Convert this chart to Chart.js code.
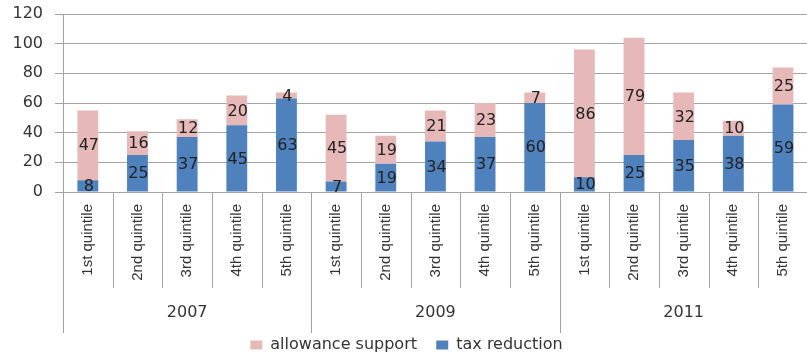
<!DOCTYPE html>
<html>
<head>
<meta charset="utf-8">
<script src="https://cdn.jsdelivr.net/npm/chart.js@4/dist/chart.umd.min.js"></script>
<style>
    html, body { margin: 0; padding: 0; background: #fff; overflow: hidden; }
    #wrap { width: 813px; height: 354px; }
</style>
</head>
<body>
<div id="wrap"><canvas id="chart"></canvas></div>
<script>
const years = ["2007", "2009", "2011"];
const quintiles = ["1st quintile", "2nd quintile", "3rd quintile", "4th quintile", "5th quintile"];
const taxReduction = [8, 25, 37, 45, 63, 7, 19, 34, 37, 60, 10, 25, 35, 38, 59];
const allowanceSupport = [47, 16, 12, 20, 4, 45, 19, 21, 23, 7, 86, 79, 32, 10, 25];
const yTicks = [0, 20, 40, 60, 80, 100, 120];

const labels = [];
years.forEach(function () {
    quintiles.forEach(function (q) { labels.push(q); });
});

const gridGray = "#a3a3a3";
const textColor = "#333333";
const wideFont = "'DejaVu Sans', Verdana, sans-serif";

// value printed in the middle of every stacked segment
const segmentLabels = {
    id: "segmentLabels",
    afterDatasetsDraw: function (chart) {
        const ctx = chart.ctx;
        ctx.save();
        ctx.font = "16px " + wideFont;
        ctx.fillStyle = "#222";
        ctx.textAlign = "center";
        ctx.textBaseline = "middle";
        chart.data.datasets.forEach(function (ds, di) {
            chart.getDatasetMeta(di).data.forEach(function (bar, i) {
                const cy = (bar.y + bar.base) / 2;
                ctx.fillText(String(ds.data[i]), bar.x + 1, cy + 1);
            });
        });
        ctx.restore();
    }
};

// separators under the axis and the year row
const yearGroups = {
    id: "yearGroups",
    afterDraw: function (chart) {
        const ctx = chart.ctx;
        const x = chart.scales.x;
        const area = chart.chartArea;
        const n = labels.length;
        const step = x.getPixelForValue(1) - x.getPixelForValue(0);
        ctx.save();
        ctx.strokeStyle = gridGray;
        ctx.lineWidth = 1;
        for (let i = 0; i <= n; i++) {
            const px = Math.round(x.getPixelForValue(i) - step / 2) + 0.5;
            const groupEdge = i % quintiles.length === 0;
            ctx.beginPath();
            ctx.moveTo(px, area.bottom);
            ctx.lineTo(px, groupEdge ? area.bottom + 141 : area.bottom + 96);
            ctx.stroke();
        }
        ctx.font = "16px " + wideFont;
        ctx.fillStyle = textColor;
        ctx.textAlign = "center";
        ctx.textBaseline = "middle";
        years.forEach(function (yr, g) {
            const cx = x.getPixelForValue(g * quintiles.length + 2);
            ctx.fillText(yr, cx, area.bottom + 121);
        });
        ctx.restore();
    }
};

const chart = new Chart(document.getElementById("chart").getContext("2d"), {
    type: "bar",
    data: {
        labels: labels,
        datasets: [
            {
                label: "tax reduction",
                data: taxReduction,
                backgroundColor: "#4f81bd",
                barPercentage: 0.42,
                categoryPercentage: 1
            },
            {
                label: "allowance support",
                data: allowanceSupport,
                backgroundColor: "#e6b9b8",
                barPercentage: 0.42,
                categoryPercentage: 1
            }
        ]
    },
    options: {
        responsive: true,
        maintainAspectRatio: false,
        animation: false,
        layout: { padding: { top: 14, left: 0, right: 0, bottom: 0 } },
        plugins: {
            tooltip: { enabled: false },
            legend: {
                position: "bottom",
                reverse: true,
                maxHeight: 21,
                labels: {
                    boxWidth: 12,
                    boxHeight: 9,
                    padding: 4,
                    color: textColor,
                    font: { family: wideFont, size: 16 },
                    generateLabels: function (chart) {
                        const items = Chart.defaults.plugins.legend.labels.generateLabels(chart);
                        items.forEach(function (it) {
                            if (it.text === "allowance support") it.text = it.text + "   ";
                        });
                        return items;
                    }
                }
            }
        },
        scales: {
            x: {
                stacked: true,
                offset: true,
                grid: { display: false, drawTicks: false },
                border: { display: true, color: gridGray },
                ticks: {
                    minRotation: 90,
                    maxRotation: 90,
                    autoSkip: false,
                    padding: 12,
                    color: textColor,
                    font: { family: "'Liberation Sans', Arial, sans-serif", size: 15 }
                },
                afterFit: function (scale) { scale.height = 141; }
            },
            y: {
                stacked: true,
                min: 0,
                max: 120,
                afterBuildTicks: function (scale) {
                    scale.ticks = yTicks.map(function (v) { return { value: v }; });
                },
                afterFit: function (scale) {
                    scale.width = 63;
                    scale.paddingTop = 0;
                    scale.paddingBottom = 0;
                },
                grid: { color: gridGray, tickLength: 8 },
                border: { display: true, color: gridGray },
                ticks: {
                    padding: 12,
                    color: textColor,
                    font: { family: wideFont, size: 16 }
                }
            }
        }
    },
    plugins: [segmentLabels, yearGroups]
});
</script>
</body>
</html>
